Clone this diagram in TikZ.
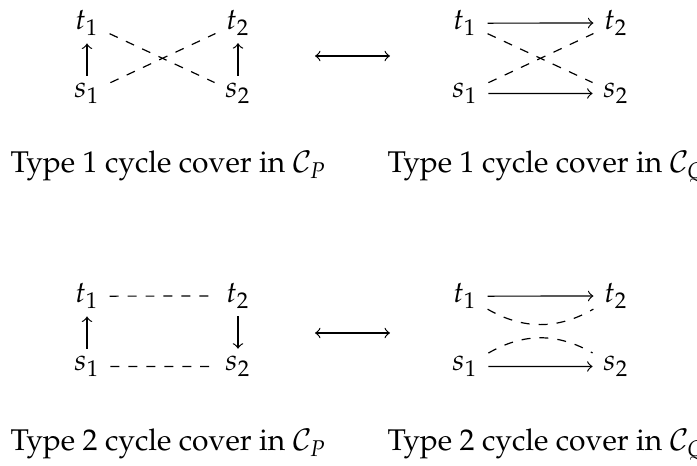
\documentclass[tikz,border=0pt]{standalone}
\usepackage[T1]{fontenc}
\usepackage{mathpazo}
\begin{document}
\begin{tikzpicture}[x=0.334pt,y=0.334pt,
  vert/.style={inner xsep=3.4pt, inner ysep=2.4pt, anchor=base},
  cover/.style={dashed},
  caption/.style={anchor=base west, inner sep=0pt}]
\useasboundingbox (0,0) rectangle (697,-466);

% Type 1, cycle cover in C_P
\node[vert] (a1) at (87,-30) {$t_1$};
\node[vert] (a2) at (238,-30) {$t_2$};
\node[vert] (a3) at (87,-98) {$s_1$};
\node[vert] (a4) at (238,-98) {$s_2$};
\draw[->] (a3) -- (a1);
\draw[->] (a4) -- (a2);
\draw[cover] (a1) -- (a4);
\draw[cover] (a3) -- (a2);

% Type 1, cycle cover in C_Q
\node[vert] (b1) at (465,-30) {$t_1$};
\node[vert] (b2) at (616,-30) {$t_2$};
\node[vert] (b3) at (465,-98) {$s_1$};
\node[vert] (b4) at (616,-98) {$s_2$};
\draw[->] (b1) -- (b2);
\draw[->] (b3) -- (b4);
\draw[cover] (b1) -- (b4);
\draw[cover] (b3) -- (b2);

% correspondence arrows
\coordinate (u1) at (315,-56);
\coordinate (u2) at (390,-56);
\draw[<->] (u1) -- (u2);
\coordinate (v1) at (315,-333);
\coordinate (v2) at (390,-333);
\draw[<->] (v1) -- (v2);

\node[caption] (c1) at (10,-173) {Type 1 cycle cover in $\mathcal{C}_P$};
\node[caption] (c2) at (387,-173) {Type 1 cycle cover in $\mathcal{C}_Q$};

% Type 2, cycle cover in C_P
\node[vert] (d1) at (87,-303) {$t_1$};
\node[vert] (d2) at (238,-303) {$t_2$};
\node[vert] (d3) at (87,-371) {$s_1$};
\node[vert] (d4) at (238,-371) {$s_2$};
\draw[->] (d3) -- (d1);
\draw[->] (d2) -- (d4);
\draw[cover] (d1) -- (d2);
\draw[cover] (d3) -- (d4);

% Type 2, cycle cover in C_Q
\node[vert] (e1) at (465,-303) {$t_1$};
\node[vert] (e2) at (616,-303) {$t_2$};
\node[vert] (e3) at (465,-371) {$s_1$};
\node[vert] (e4) at (616,-371) {$s_2$};
\draw[->] (e1) -- (e2);
\draw[->] (e3) -- (e4);
\draw[cover] (e1) to[bend right=30] (e2);
\draw[cover] (e3) to[bend left=30] (e4);

\node[caption] (c3) at (10,-451) {Type 2 cycle cover in $\mathcal{C}_P$};
\node[caption] (c4) at (387,-451) {Type 2 cycle cover in $\mathcal{C}_Q$};
\end{tikzpicture}
\end{document}
